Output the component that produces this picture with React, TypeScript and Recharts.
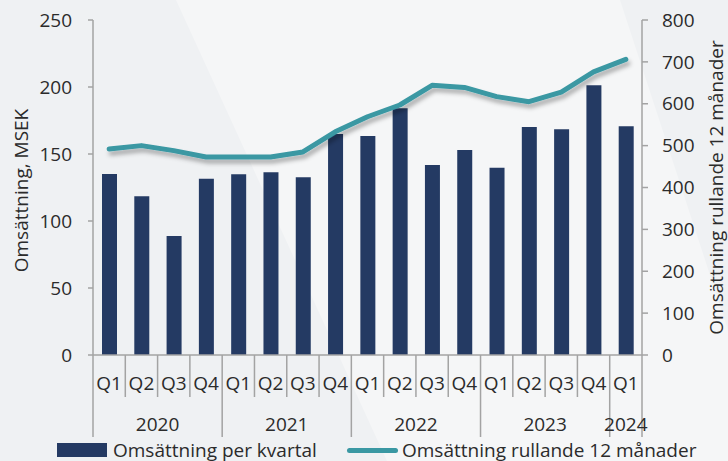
import React from "react"
import {
    ComposedChart,
    Bar,
    Line,
    XAxis,
    YAxis,
    Legend,
} from "recharts"

const quarters = ["Q1", "Q2", "Q3", "Q4", "Q1", "Q2", "Q3", "Q4", "Q1", "Q2", "Q3", "Q4", "Q1", "Q2", "Q3", "Q4", "Q1"]
const years = ["2020", "2020", "2020", "2020", "2021", "2021", "2021", "2021", "2022", "2022", "2022", "2022", "2023", "2023", "2023", "2023", "2024"]
const perQuarter = [135, 118.4, 88.8, 131.6, 134.9, 136.3, 132.6, 164.9, 163.4, 184.1, 141.8, 153, 139.8, 170.1, 168.4, 201.3, 170.7]
const rolling12 = [492, 500, 488, 473, 473, 473, 485, 533, 569, 597, 644, 639, 617, 605, 628, 676, 706]
const leftTicks = [0, 50, 100, 150, 200, 250]
const rightTicks = [0, 100, 200, 300, 400, 500, 600, 700, 800]

const data = quarters.map((q, i) => ({
    q,
    year: years[i],
    kvartal: perQuarter[i],
    rullande: rolling12[i],
}))

const FONT = "'Open Sans', sans-serif"
const FS = 19
const TEXT = "#2b2b2b"
const AXIS = "#a3a3a3"
const NAVY = "#243a63"
const TEAL = "#3a98a3"

const W = 728
const H = 461
const PLOT_LEFT = 93
const PLOT_RIGHT = 642
const BAND = (PLOT_RIGHT - PLOT_LEFT) / data.length
const LEGEND_H = 22

function QuarterTick(props: any) {
    const { x, y, payload } = props
    const i = payload.index
    const left = x - BAND / 2
    const right = x + BAND / 2
    const startsYear = i === 0 || years[i] !== years[i - 1]
    const isLast = i === data.length - 1
    const count = years.filter(yr => yr === years[i]).length
    const firstIdx = years.indexOf(years[i])
    const isMiddle = i === firstIdx + Math.floor((count - 1) / 2)
    const yearX = count % 2 === 0 ? right : x

    return (
        <g>
            <line x1={left} x2={left} y1={y} y2={y + (startsYear ? 82 : 42)} stroke={AXIS} strokeWidth={1.5} />
            {isLast && (
                <line x1={right} x2={right} y1={y} y2={y + 82} stroke={AXIS} strokeWidth={1.5} />
            )}
            <text x={x} y={y + 35} textAnchor="middle" fontSize={FS} fontFamily={FONT} fill={TEXT}>
                {payload.value}
            </text>
            {isMiddle && (
                <text x={yearX} y={y + 76} textAnchor="middle" fontSize={FS} fontFamily={FONT} fill={TEXT}>
                    {years[i]}
                </text>
            )}
        </g>
    )
}

function ChartLegend() {
    return (
        <div style={{ position: "relative", width: W, height: LEGEND_H, fontFamily: FONT, fontSize: FS, color: TEXT }}>
            <div style={{ position: "absolute", left: 57, top: 0, display: "flex", alignItems: "center", height: LEGEND_H }}>
                <span style={{ display: "inline-block", width: 50, height: 14, background: NAVY, marginRight: 6 }} />
                <span style={{ lineHeight: `${LEGEND_H}px`, whiteSpace: "nowrap" }}>Omsättning per kvartal</span>
            </div>
            <div style={{ position: "absolute", left: 347, top: 0, display: "flex", alignItems: "center", height: LEGEND_H }}>
                <span style={{ display: "inline-block", width: 51, height: 5, background: TEAL, borderRadius: 3, marginRight: 4 }} />
                <span style={{ lineHeight: `${LEGEND_H}px`, whiteSpace: "nowrap" }}>Omsättning rullande 12 månader</span>
            </div>
        </div>
    )
}

export default function App() {
    return (
        <div style={{ position: "absolute", left: 0, top: 0, width: W, height: H, background: "#eff1f3", overflow: "hidden" }}>
            <style>{`body{margin:0} .recharts-line-curve{filter:url(#lineShadow)}`}</style>

            {/* Decorative lighter band */}
            <svg width={W} height={H} style={{ position: "absolute", left: 0, top: 0 }}>
                <defs>
                    <filter id="lineShadow" x="-10%" y="-30%" width="120%" height="160%">
                        <feDropShadow dx="2" dy="4" stdDeviation="2" floodColor="#000" floodOpacity="0.3" />
                    </filter>
                </defs>
                <polygon points="176,0 620,0 728,330 728,461 387,461" fill="#f5f6f7" />
            </svg>

            <div style={{ position: "absolute", left: 0, top: 0 }}>
                <ComposedChart
                    width={W}
                    height={H}
                    data={data}
                    margin={{ top: 20, right: 0, bottom: 0, left: 0 }}
                    barCategoryGap={0}
                    style={{ fontFamily: FONT }}
                >
                    <XAxis
                        dataKey="q"
                        height={H - 20 - 335 - LEGEND_H}
                        interval={0}
                        tickLine={false}
                        tickSize={0}
                        tickMargin={0}
                        axisLine={{ stroke: AXIS, strokeWidth: 1.5 }}
                        tick={<QuarterTick />}
                    />
                    <YAxis
                        yAxisId="left"
                        width={93}
                        domain={[0, 250]}
                        ticks={leftTicks}
                        interval={0}
                        tickSize={5}
                        tickMargin={16}
                        axisLine={{ stroke: AXIS, strokeWidth: 1.5 }}
                        tickLine={{ stroke: AXIS, strokeWidth: 1.5 }}
                        tick={{ fill: TEXT, fontSize: FS, fontFamily: FONT }}
                        label={{
                            content: (p: any) => {
                                const vb = p.viewBox
                                const cx = vb.x + 21
                                const cy = vb.y + vb.height / 2 + 3
                                return (
                                    <text x={cx} y={cy} transform={`rotate(-90 ${cx} ${cy})`} textAnchor="middle" dominantBaseline="central" fontSize={FS} fontFamily={FONT} fill={TEXT}>
                                        Omsättning, MSEK
                                    </text>
                                )
                            },
                        }}
                    />
                    <YAxis
                        yAxisId="right"
                        orientation="right"
                        width={86}
                        domain={[0, 800]}
                        ticks={rightTicks}
                        interval={0}
                        tickSize={6}
                        tickMargin={14}
                        axisLine={{ stroke: AXIS, strokeWidth: 1.5 }}
                        tickLine={{ stroke: AXIS, strokeWidth: 1.5 }}
                        tick={{ fill: TEXT, fontSize: FS, fontFamily: FONT }}
                        label={{
                            content: (p: any) => {
                                const vb = p.viewBox
                                const cx = vb.x + 74
                                const cy = vb.y + vb.height / 2
                                return (
                                    <text x={cx} y={cy} transform={`rotate(-90 ${cx} ${cy})`} textAnchor="middle" dominantBaseline="central" fontSize={FS} fontFamily={FONT} fill={TEXT}>
                                        Omsättning rullande 12 månader
                                    </text>
                                )
                            },
                        }}
                    />
                    <Bar
                        yAxisId="left"
                        dataKey="kvartal"
                        name="Omsättning per kvartal"
                        fill={NAVY}
                        barSize={15}
                        isAnimationActive={false}
                    />
                    <Line
                        yAxisId="right"
                        dataKey="rullande"
                        name="Omsättning rullande 12 månader"
                        type="linear"
                        stroke={TEAL}
                        strokeWidth={5}
                        strokeLinecap="round"
                        strokeLinejoin="round"
                        dot={false}
                        activeDot={false}
                        isAnimationActive={false}
                    />
                    <Legend verticalAlign="bottom" content={<ChartLegend />} wrapperStyle={{ left: 0, width: W }} />
                </ComposedChart>
            </div>
        </div>
    )
}
